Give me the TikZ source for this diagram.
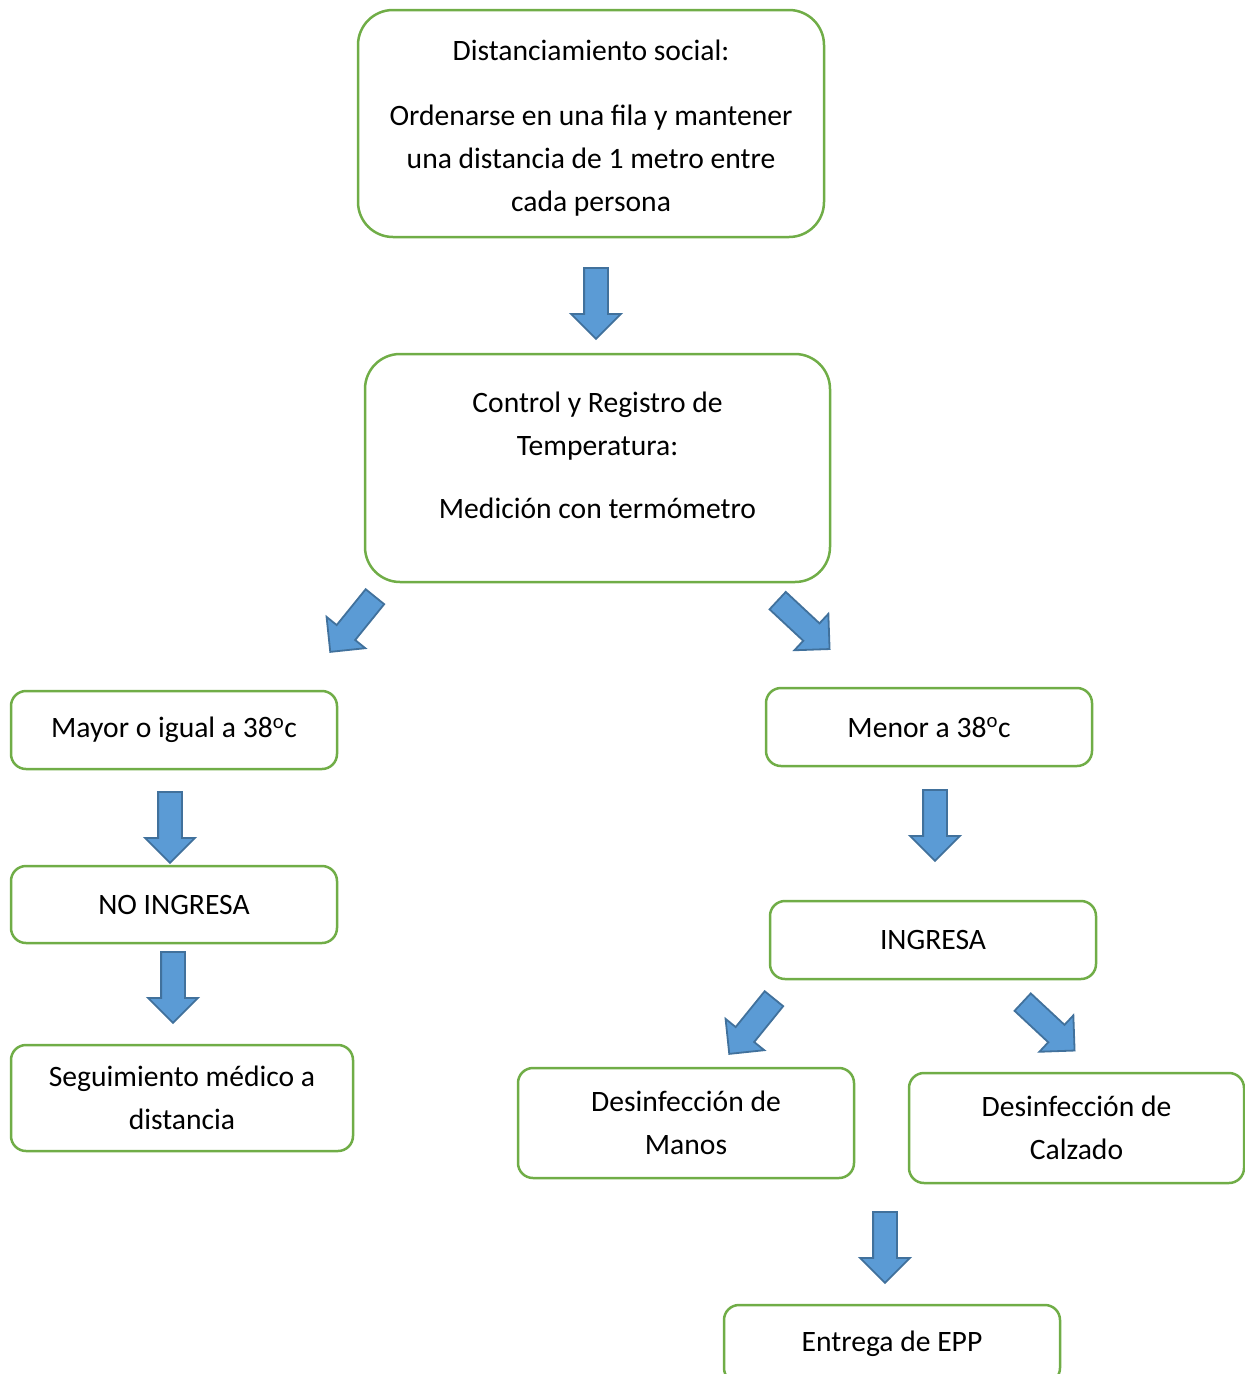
\documentclass[tikz,border=0pt]{standalone}
\usepackage{fontspec}
\setmainfont{Carlito}
\definecolor{BoxGreen}{HTML}{70AD47}
\definecolor{ArrowBlue}{HTML}{5B9BD5}
\definecolor{ArrowEdge}{HTML}{41719C}
\usetikzlibrary{shapes.arrows}
\newcommand{\gradC}{38\textsuperscript{o}c}

\begin{document}
\begin{tikzpicture}[x=1pt,y=-1pt,
  boxfont/.style={font=\fontsize{29.6}{43}\selectfont},
  bigbox/.style={boxfont,draw=BoxGreen,line width=2.5pt,rounded corners=35pt,align=center},
  smallbox/.style={boxfont,draw=BoxGreen,line width=2.5pt,rounded corners=15pt,align=center,
    minimum width=326,minimum height=78},
  blockarrow/.style={single arrow,draw=ArrowEdge,fill=ArrowBlue,line width=1.8pt,anchor=tail,
    inner xsep=0pt,inner ysep=11pt,minimum height=71,single arrow head extend=13pt}]
  \useasboundingbox (0,0) rectangle (1245,1374);
  % upper part
  \node[bigbox,minimum width=466,minimum height=227] (distancia) at (591,123.5)
    {\mbox{}\\[-14pt]Distanciamiento social:\\[22pt]Ordenarse en una fila y mantener\\una distancia de 1 metro entre\\cada persona};
  \node[bigbox,minimum width=465,minimum height=228] (control) at (597.5,468)
    {Control y Registro de\\Temperatura:\\[20pt]Medición con termómetro\\[-17pt]\mbox{}};
  % left branch
  \node[smallbox] (mayor) at (174,730) {Mayor o igual a \gradC};
  \node[smallbox,minimum height=77] (noingresa) at (174,904.5) {NO INGRESA};
  \node[smallbox,minimum width=342,minimum height=106] (seguimiento) at (182,1098)
    {Seguimiento médico a\\distancia};
  % right branch
  \node[smallbox] (menor) at (929,727) {Menor a \gradC};
  \node[smallbox] (ingresa) at (933,940) {INGRESA};
  \node[smallbox,minimum width=336,minimum height=110] (manos) at (686,1123) {Desinfección de\\Manos};
  \node[smallbox,minimum width=335,minimum height=110] (calzado) at (1076.5,1128) {Desinfección de\\Calzado};
  \node[smallbox,minimum width=336] (epp) at (892,1344) {Entrega de EPP};
  % block arrows, placed by their tails
  \foreach \px/\py/\ang [count=\i] in {596/267/-90, 375.5/596/-129, 777/600/-43,
      170/791/-90, 173/951/-90, 935/789/-90, 774.5/998/-129, 1022/1001.5/-43, 885/1211/-90}
    \node[blockarrow,rotate=\ang] (arrow\i) at (\px,\py) {};
\end{tikzpicture}
\end{document}
